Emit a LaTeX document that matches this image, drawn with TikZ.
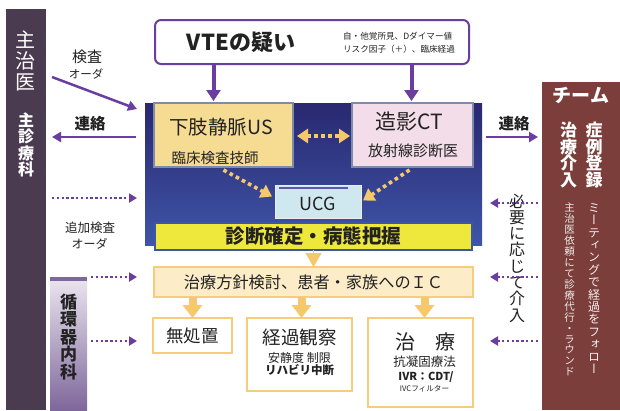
\documentclass[tikz,border=0pt]{standalone}
\usepackage{fontspec}
\setmainfont{Noto Sans CJK JP}
\newfontfamily\jpv{Noto Sans CJK JP}[RawFeature=+vert]
\usetikzlibrary{calc,arrows.meta}
\definecolor{lbar}{HTML}{4B3B50}
\definecolor{rbar}{HTML}{7B3E3B}
\definecolor{vpurple}{HTML}{6A3EA1}
\definecolor{navytop}{HTML}{2A2870}
\definecolor{navybot}{HTML}{3E55A8}
\definecolor{usfill}{HTML}{F6DC93}
\definecolor{ctfill}{HTML}{F3DDE9}
\definecolor{ucgfill}{HTML}{CFE7EE}
\definecolor{yel}{HTML}{EEE83C}
\definecolor{oarr}{HTML}{F6C86C}
\definecolor{icfill}{HTML}{FCECC8}
\definecolor{obord}{HTML}{F5CD7C}
\definecolor{gbord}{HTML}{7D8CAD}
\definecolor{txt}{HTML}{222222}
\definecolor{circtop}{HTML}{ECE6F0}
\definecolor{circbot}{HTML}{7E679B}
\def\tatei#1{\ifx\relax#1\else\hbox to 1em{\hss#1\hss}\expandafter\tatei\fi}
\newcommand\tate[2]{\vbox{\baselineskip=#1\relax\lineskiplimit=-100pt\tatei#2\relax}}
\newcommand\fs[2]{\fontsize{#1}{#2}\selectfont}
\tikzset{
  boxb/.style={rectangle, inner sep=0pt, outer sep=0pt},
  lbl/.style={inner sep=0pt, outer sep=0pt, text=txt},
  parr/.style={draw=vpurple, line width=2.5pt, -{Triangle[width=10pt,length=9pt]}},
  pdot/.style={draw=vpurple, line width=2.4pt, dash pattern=on 2.4pt off 2.4pt, -{Triangle[width=9pt,length=8pt]}},
  odot/.style={draw=oarr, line width=3.6pt, dash pattern=on 3.6pt off 3.4pt, -{Triangle[width=14pt,length=11pt]}},
  oblock/.style={draw=oarr, line width=8pt, -{Triangle[width=19pt,length=13pt]}},
}
\begin{document}
\begin{tikzpicture}[x=1pt,y=-1pt]
\useasboundingbox[fill=white] (0,0) rectangle (620,410);
% side bars
\node[boxb, fill=lbar, minimum width=40pt, minimum height=401pt] (leftbar) at (26,209.5) {};
\node[boxb, top color=circtop, bottom color=circbot, minimum width=37pt, minimum height=133pt] (circ) at (68.5,343.5) {};
\fill[circbot] (circ.north west) rectangle ($(circ.north east)+(0,4)$);
\node[boxb, fill=rbar, minimum width=78pt, minimum height=328pt] (rightbar) at (581,246) {};
% left bar texts
\node[lbl, text=white, font=\fs{20}{21}] (shujii) at (26,61) {\tate{21pt}{主治医}};
\node[lbl, text=white, font=\bfseries\fs{16}{17}] (shushin) at (26,145) {\tate{16.5pt}{主診療科}};
\node[lbl, text=txt, font=\bfseries\fs{17}{18}] (junkanki) at (68.5,337) {\tate{17.5pt}{循環器内科}};
% right bar texts
\node[lbl, text=white, font=\bfseries\fs{19}{20}] (team) at (581,95) {チーム};
\node[lbl, text=white, font=\bfseries\fs{17}{18}] (shorei) at (594,155) {\tate{16.5pt}{症例登録}};
\node[lbl, text=white, font=\bfseries\fs{17}{18}] (chiryokainyu) at (568.5,155) {\tate{16.5pt}{治療介入}};
\node[lbl, text=white!92!rbar, font=\jpv\fs{12}{12}] (meeting) at (594,288.5) {\tate{12.4pt}{ミーティングで経過をフォロー}};
\node[lbl, text=white!88!rbar, font=\jpv\fs{10.5}{11}] (irai) at (569.5,289.5) {\tate{10.95pt}{主治医依頼にて診療代行・ラウンド}};
% VTE box
\node[boxb, draw=vpurple, line width=2pt, fill=white, rounded corners=6pt, minimum width=314pt, minimum height=44pt] (vte) at (312,42) {};
\node[lbl, font=\bfseries\fs{22}{24}] (vtetxt) at (241,42) {VTEの疑い};
\node[lbl, font=\fs{8.6}{12.5}, align=left] (vtesub) at (399,43) {自・他覚所見、Dダイマー値\\リスク因子（＋）、臨床経過};
% blue panel
\node[boxb, top color=navytop, bottom color=navybot, minimum width=337pt, minimum height=142pt] (panel) at (313.5,174) {};
% US and CT boxes
\node[boxb, fill=usfill, draw=gbord, line width=1.3pt, minimum width=139pt, minimum height=64pt] (us) at (223.5,135) {};
\node[lbl, font=\fs{19.5}{21}] (ustxt) at (221,127) {下肢静脈US};
\node[lbl, font=\fs{14.5}{16}] (ustech) at (215,158) {臨床検査技師};
\node[boxb, fill=ctfill, draw=gbord, line width=1.3pt, minimum width=121pt, minimum height=64pt] (ct) at (412.5,135) {};
\node[lbl, font=\fs{21}{23}] (cttxt) at (409,122) {造影CT};
\node[lbl, font=\fs{15}{16}] (ctdoc) at (413,151) {放射線診断医};
% UCG
\node[boxb, fill=ucgfill, draw=white!85!gray, line width=1pt, minimum width=86pt, minimum height=33pt] (ucg) at (318,201.5) {};
\draw[gray!70!blue, line width=1.4pt] ($(ucg.north west)+(4,3)$) -- ($(ucg.north east)+(-13,3)$);
\node[lbl, font=\fs{18}{20}] (ucgtxt) at (318,203.5) {UCG};
% diagnosis
\node[boxb, fill=yel, draw=navybot, line width=1.3pt, minimum width=317pt, minimum height=27pt] (diag) at (313.5,236.5) {};
\node[lbl, font=\bfseries\fs{19.5}{21}] (diagtxt) at (313.5,236.5) {診断確定・病態把握};
% IC
\node[boxb, fill=icfill, draw=obord, line width=2.5pt, minimum width=319pt, minimum height=30pt] (ic) at (313.5,282) {};
\node[lbl, font=\fs{16.2}{18}] (ictxt) at (313.5,282) {治療方針検討、患者・家族へのＩＣ};
% outcome boxes
\node[boxb, fill=white, draw=obord, line width=2pt, minimum width=79pt, minimum height=35pt] (mushochi) at (192.5,335.5) {};
\node[lbl, font=\fs{17.5}{19}] (mushochitxt) at (192.5,336) {無処置};
\node[boxb, fill=white, draw=obord, line width=2pt, minimum width=105pt, minimum height=73pt] (keika) at (299.5,354.5) {};
\node[lbl, font=\fs{18.5}{20}] (keikatxt) at (299.5,337.5) {経過観察};
\node[lbl, font=\fs{12}{13}] (ansei) at (299.5,357.5) {安静度 制限};
\node[lbl, font=\bfseries\fs{11.5}{13}] (reha) at (299.5,370.5) {リハビリ中断};
\node[boxb, fill=white, draw=obord, line width=2pt, minimum width=105pt, minimum height=89pt] (chiryo) at (420.5,362.5) {};
\node[lbl, font=\fs{20}{22}] (chiryotxt) at (425,342) {治　療};
\node[lbl, font=\fs{12.5}{14}] (kogyoko) at (424.5,362) {抗凝固療法};
\node[lbl, font=\bfseries\fs{11}{12}] (ivr) at (426,377.5) {IVR：CDT/};
\node[lbl, font=\fs{7.6}{9}] (ivc) at (424.5,389) {IVCフィルター};
% side labels
\node[lbl, font=\fs{15}{16}] (kensa) at (87,57) {検査};
\node[lbl, font=\fs{11.5}{12}] (order1) at (86,74) {オーダ};
\node[lbl, font=\bfseries\fs{15.5}{16}] (renraku1) at (90,124) {連絡};
\node[lbl, font=\fs{12.5}{13}] (tsuika) at (90,228) {追加検査};
\node[lbl, font=\fs{12}{13}] (order2) at (89.5,243.5) {オーダ};
\node[lbl, font=\bfseries\fs{15.5}{16}] (renraku2) at (514,124) {連絡};
\node[lbl, font=\fs{16}{16}] (hitsuyo) at (517,258) {\tate{16.3pt}{必要に応じて介入}};
% purple arrows from VTE
\draw[parr, line width=4pt, -{Triangle[width=14pt,length=11pt]}] ($(vte.south -| us.north)+(-10,0)$) -- ($(us.north)+(-10,-2)$);
\draw[parr, line width=4pt, -{Triangle[width=14pt,length=11pt]}] ($(vte.south -| ct.north)+(-1,0)$) -- ($(ct.north)+(-1,-2)$);
% left side arrows
\draw[parr] ($(leftbar.north east)+(6,68)$) -- ($(panel.north west)+(-8,6)$);
\draw[parr] ($(panel.west |- us.east)+(-9,2)$) -- ($(leftbar.east |- us.east)+(6,2)$);
\draw[pdot] ($(leftbar.east |- 0,198)+(6,0)$) -- ($(panel.west |- 0,198)+(-8,0)$);
\draw[pdot] ($(circ.north east)+(4,0)$) -- ($(ic.west |- circ.north)+(-17,0)$);
\draw[pdot] ($(circ.east |- 0,341)+(4,0)$) -- ($(ic.west |- 0,341)+(-17,0)$);
% right side arrows
\draw[parr] ($(panel.east |- us.east)+(4,2)$) -- ($(rightbar.west |- us.east)+(-4,2)$);
\draw[pdot] ($(rightbar.west |- 0,203)+(-4,0)$) -- ($(panel.east |- 0,203)+(8,0)$);
\draw[pdot] ($(rightbar.west |- ic.east)+(-4,-5)$) -- ($(ic.east)+(17,-5)$);
\draw[pdot] ($(rightbar.west |- 0,341)+(-4,0)$) -- ($(chiryo.east |- 0,341)+(17,0)$);
% orange dotted arrows
\draw[odot, {Triangle[width=14pt,length=11pt]}-{Triangle[width=14pt,length=11pt]}] ($(us.east)+(4,1)$) -- ($(ct.west)+(-2,1)$);
\draw[odot] ($(us.south)+(0,3)$) -- ($(ucg.west)+(-3,-5)$);
\draw[odot] ($(ct.south)+(-3,3)$) -- ($(ucg.east)+(2,-1)$);
% orange block arrows
\draw[draw=oarr, line width=1pt, -{Triangle[width=16pt,length=14pt]}] (diag.south) -- (ic.north);
\draw[oblock] (ic.south -| mushochi.north) -- (mushochi.north);
\draw[oblock] ($(ic.south -| keika.north)+(2,0)$) -- ($(keika.north)+(2,0)$);
\draw[oblock] ($(ic.south -| chiryo.north)+(4,0)$) -- ($(chiryo.north)+(4,0)$);
\end{tikzpicture}
\end{document}
